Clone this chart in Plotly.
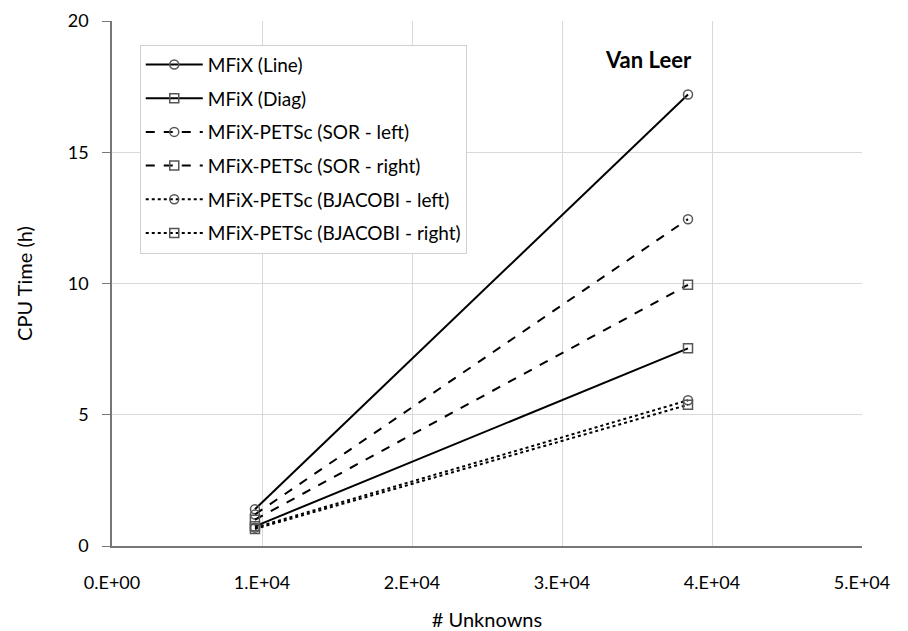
import plotly.graph_objects as go

x_vals = [9530, 38400]
names = ["MFiX (Line)", "MFiX (Diag)", "MFiX-PETSc (SOR - left)", "MFiX-PETSc (SOR - right)",
         "MFiX-PETSc (BJACOBI - left)", "MFiX-PETSc (BJACOBI - right)"]
y_line = [1.4, 17.2]
y_diag = [0.75, 7.53]
y_sor_left = [1.2, 12.45]
y_sor_right = [1.0, 9.95]
y_bj_left = [0.7, 5.55]
y_bj_right = [0.65, 5.38]
series = [y_line, y_diag, y_sor_left, y_sor_right, y_bj_left, y_bj_right]
dashes = ["solid", "solid", "dash", "dash", "dot", "dot"]
symbols = ["circle-open", "square-open", "circle-open", "square-open", "circle-open", "square-open"]

fig = go.Figure()
for i, (n, y, d, s) in enumerate(zip(names, series, dashes, symbols)):
    fig.add_trace(go.Scatter(
        x=x_vals, y=y, name=n, mode="lines+markers", legendgroup=f"g{i}",
        line=dict(color="black", width=2, dash=d),
        marker=dict(symbol=s, size=9, color="#555555", line=dict(width=1.5, color="#555555")),
    ))

font_family = "Lato, Open Sans, sans-serif"
fig.update_layout(
    width=908, height=631,
    margin=dict(l=112, r=46, t=21, b=85),
    plot_bgcolor="white", paper_bgcolor="white",
    font=dict(family=font_family, size=18, color="black"),
    showlegend=True,
    legend=dict(
        x=0.037, y=0.955, xanchor="left", yanchor="top",
        bordercolor="#d0d0d0", borderwidth=1, bgcolor="white",
        font=dict(size=19, family=font_family),
        traceorder="grouped", tracegroupgap=6, itemwidth=57,
    ),
    xaxis=dict(
        range=[0, 50000], tickvals=[0, 10000, 20000, 30000, 40000, 50000],
        ticktext=["0.E+00", "1.E+04", "2.E+04", "3.E+04", "4.E+04", "5.E+04"],
        showgrid=True, gridcolor="#d9d9d9", gridwidth=1,
        showline=True, linecolor="#777777", linewidth=1.5,
        zeroline=False, ticks="", ticklen=0, ticklabelstandoff=20,
        tickfont=dict(size=18), automargin=False,
        title=dict(text="# Unknowns", font=dict(size=20), standoff=22),
    ),
    yaxis=dict(
        range=[0, 20], tickvals=[0, 5, 10, 15, 20],
        showgrid=True, gridcolor="#d9d9d9", gridwidth=1,
        showline=True, linecolor="#777777", linewidth=1.5,
        zeroline=False, ticks="outside", ticklen=8, tickcolor="#777777",
        ticklabelstandoff=10, tickfont=dict(size=18), automargin=False,
        title=dict(text="CPU Time (h)", font=dict(size=20), standoff=30),
    ),
    annotations=[dict(
        text="<b>Van Leer</b>", x=0.655, y=0.926, xref="paper", yref="paper",
        xanchor="left", yanchor="middle", showarrow=False, font=dict(size=22, family=font_family),
    )],
)

fig.write_html("out.html")
